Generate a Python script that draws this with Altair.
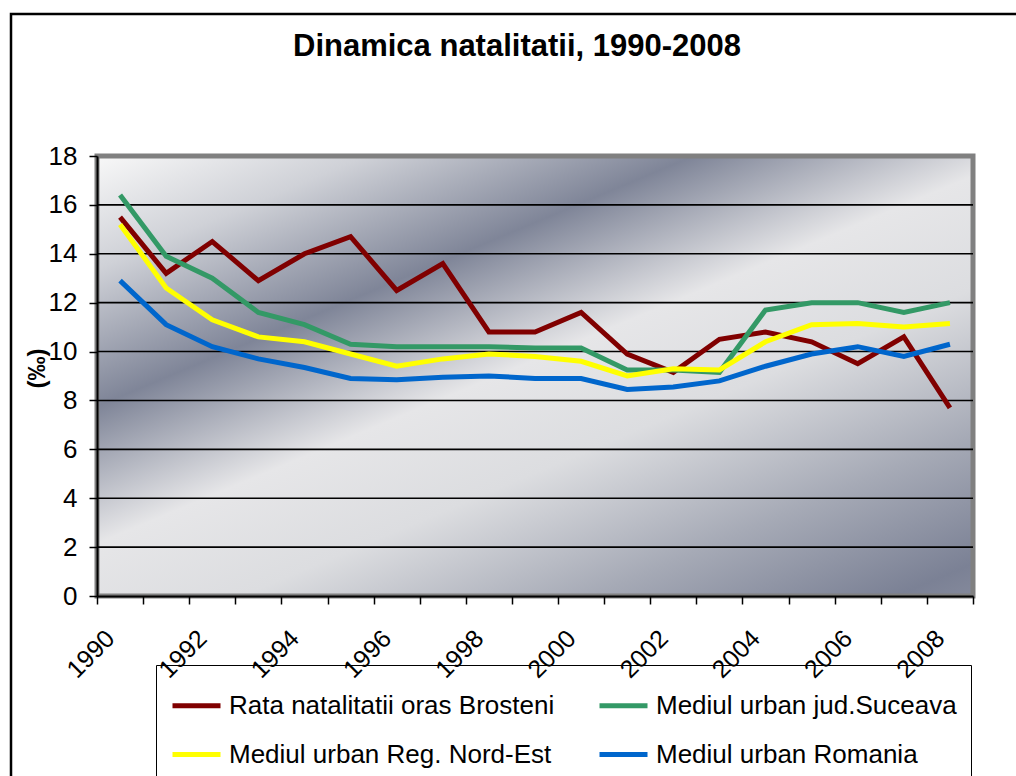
import altair as alt
import pandas as pd

# Birth rate (per mille), 1990-2008
years = [str(y) for y in range(1990, 2009)]
brosteni = [15.5, 13.2, 14.5, 12.9, 14.0, 14.7, 12.5, 13.6, 10.8, 10.8,
            11.6, 9.9, 9.15, 10.5, 10.8, 10.4, 9.5, 10.6, 7.7]
suceava = [16.4, 13.9, 13.0, 11.6, 11.1, 10.3, 10.2, 10.2, 10.2, 10.15,
           10.15, 9.25, 9.25, 9.15, 11.7, 12.0, 12.0, 11.6, 12.0]
nord_est = [15.2, 12.6, 11.3, 10.6, 10.4, 9.9, 9.4, 9.7, 9.9, 9.8,
            9.6, 9.0, 9.3, 9.25, 10.4, 11.1, 11.15, 11.0, 11.15]
romania = [12.9, 11.1, 10.2, 9.7, 9.35, 8.9, 8.85, 8.95, 9.0, 8.9,
           8.9, 8.45, 8.55, 8.8, 9.4, 9.9, 10.2, 9.8, 10.3]

name_brosteni = "Rata natalitatii oras Brosteni"
name_suceava = "Mediul urban jud.Suceava"
name_nord_est = "Mediul urban Reg. Nord-Est"
name_romania = "Mediul urban Romania"

# legend fills column by column: first column Brosteni / Nord-Est
legend_order = [name_brosteni, name_nord_est, name_suceava, name_romania]
legend_colors = ["#800000", "#ffff00", "#339966", "#0066cc"]

grid_values = [2, 4, 6, 8, 10, 12, 14, 16]
y_ticks = list(range(0, 19, 2))

W, H = 876, 440
FONT = "Liberation Sans"

rows = []
for name, vals in [(name_brosteni, brosteni), (name_suceava, suceava),
                   (name_nord_est, nord_est), (name_romania, romania)]:
    for yr, v in zip(years, vals):
        rows.append({"year": yr, "value": v, "series": name})
df = pd.DataFrame(rows)

y_scale = alt.Scale(domain=[0, 18], nice=False, zero=True)

# shaded plot background with a gray frame
background = alt.Chart(pd.DataFrame({"k": [0]})).mark_rect(
    fill=alt.Gradient(
        gradient="linear",
        x1=0, y1=0, x2=0.903, y2=1.081,
        stops=[
            alt.GradientStop(offset=0.0, color="#f8f8f8"),
            alt.GradientStop(offset=0.14, color="#cfd1d7"),
            alt.GradientStop(offset=0.31, color="#7f8598"),
            alt.GradientStop(offset=0.48, color="#e6e6e8"),
            alt.GradientStop(offset=0.62, color="#dcdde0"),
            alt.GradientStop(offset=0.80, color="#a6aab6"),
            alt.GradientStop(offset=0.96, color="#7b8195"),
            alt.GradientStop(offset=1.0, color="#84899b"),
        ],
    ),
    stroke="#808080",
    strokeWidth=5,
).encode(
    x=alt.value(0), x2=alt.value(W), y=alt.value(0), y2=alt.value(H)
)

grid = alt.Chart(pd.DataFrame({"g": grid_values})).mark_rule(
    color="black", strokeWidth=1.6
).encode(y=alt.Y("g:Q", scale=y_scale))

lines = alt.Chart(df).mark_line(strokeWidth=5).encode(
    x=alt.X(
        "year:O",
        sort=years,
        bandPosition=0.5,
        scale=alt.Scale(type="band", paddingInner=0, paddingOuter=0),
        axis=alt.Axis(
            title=None,
            tickBand="extent",
            labelExpr="toNumber(datum.value) % 2 == 0 ? datum.value : ''",
            labelAngle=-45,
            labelAlign="right",
            labelBaseline="middle",
            labelOffset=-10,
            labelPadding=30,
            labelFontSize=25,
            labelColor="black",
            labelFont=FONT,
            tickSize=8,
            tickColor="black",
            tickWidth=1.5,
            domainColor="black",
            domainWidth=2,
            grid=False,
            zindex=1,
        ),
    ),
    y=alt.Y(
        "value:Q",
        scale=y_scale,
        axis=alt.Axis(
            title="(‰)",
            titleFont=FONT,
            titleFontSize=24,
            titleFontWeight="bold",
            titleColor="black",
            titleAngle=270,
            titleX=-60,
            titleY=212,
            titleAlign="center",
            titleBaseline="middle",
            values=y_ticks,
            labelFontSize=26,
            labelFont=FONT,
            labelColor="black",
            labelPadding=12,
            tickSize=8,
            tickColor="black",
            tickWidth=1.5,
            domainColor="black",
            domainWidth=2,
            grid=False,
            zindex=1,
        ),
    ),
    color=alt.Color(
        "series:N",
        sort=legend_order,
        scale=alt.Scale(domain=legend_order, range=legend_colors),
        legend=alt.Legend(
            title=None,
            orient="none",
            legendX=59,
            legendY=509,
            columns=2,
            symbolType="stroke",
            symbolStrokeWidth=5,
            symbolSize=2304,
            labelFontSize=26,
            labelFont=FONT,
            labelColor="black",
            labelOffset=6,
            labelLimit=600,
            rowPadding=9,
            columnPadding=34,
            padding=14,
            fillColor="white",
            strokeColor="black",
        ),
    ),
)

# outer chart frame
frame = alt.Chart(pd.DataFrame({"k": [0]})).mark_rect(
    fill=None, stroke="black", strokeWidth=2.5
).encode(
    x=alt.value(-86), x2=alt.value(960), y=alt.value(-142), y2=alt.value(660)
)

chart = alt.layer(background, grid, lines, frame).properties(
    width=W,
    height=H,
    title=alt.TitleParams(
        "Dinamica natalitatii, 1990-2008",
        font=FONT,
        fontSize=31,
        fontWeight="bold",
        color="black",
        anchor="middle",
        baseline="alphabetic",
        dx=-18,
        offset=-74,
    ),
    padding={"left": 97, "top": 156, "right": 43, "bottom": 180},
    autosize=alt.AutoSizeParams(type="none"),
).configure_view(stroke=None).configure(background="white")

chart.save("out.html", embed_options={"renderer": "svg", "actions": False})
